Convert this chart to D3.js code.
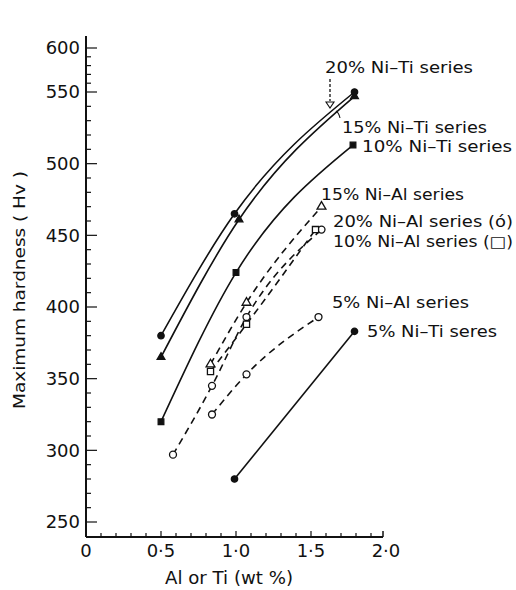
<!DOCTYPE html>
<html><head><meta charset="utf-8">
<script src="https://cdn.jsdelivr.net/npm/d3@7"></script>
<style>
html,body{margin:0;padding:0;background:#fff;}
svg{display:block;font-family:"DejaVu Sans",sans-serif;}
</style></head>
<body><svg id="c" width="516" height="590"></svg>
<script>
// ---------------- data ----------------
const xTickValues = [0, 0.5, 1.0, 1.5, 2.0];
const xTickLabels = ["0", "0·5", "1·0", "1·5", "2·0"];
const yTickValues = [250, 300, 350, 400, 450, 500, 550, 600];
const xTitle = "Al or Ti  (wt %)";
const yTitle = "Maximum  hardness  ( Hv )";

const niTi20x = [0.5, 0.99, 1.79];  const niTi20y = [380, 465, 550];
const niTi15x = [0.5, 1.02, 1.79]; const niTi15y = [365, 461, 547];
const niTi10x = [0.5, 1.0, 1.78];  const niTi10y = [320, 424, 513];
const niTi5x  = [0.99, 1.79];      const niTi5y  = [280, 383];
const niAl15x = [0.83, 1.07, 1.57];        const niAl15y = [360, 403, 470];
const niAl20x = [0.58, 0.84, 1.07, 1.57];  const niAl20y = [297, 345, 393, 454];
const niAl10x = [0.83, 1.07, 1.53];        const niAl10y = [355, 388, 454];
const niAl5x  = [0.84, 1.07, 1.55];        const niAl5y  = [325, 353, 393];

const seriesNames = ["20% Ni–Ti series","15% Ni–Ti series","10% Ni–Ti series","5% Ni–Ti seres",
                     "15% Ni–Al series","20% Ni–Al series (ó)","10% Ni–Al series (□)","5% Ni–Al series"];

// ---------------- layout ----------------
const svg = d3.select("#c");
const x = d3.scaleLinear().domain([0, 2]).range([86, 386]);
const y = d3.scaleLinear().domain([250, 550, 600]).range([522, 92, 48]);
const ink = "#111";

// axes
const g = svg.append("g");
g.append("line").attr("x1", x(0)).attr("x2", x(0)).attr("y1", 36).attr("y2", 537)
  .attr("stroke", ink).attr("stroke-width", 2);
g.append("line").attr("x1", x(0)).attr("x2", x(1.98)).attr("y1", 537).attr("y2", 537)
  .attr("stroke", ink).attr("stroke-width", 2);
g.append("line").attr("x1", x(1.98)).attr("x2", x(1.98)).attr("y1", 537).attr("y2", 531)
  .attr("stroke", ink).attr("stroke-width", 1.5);

// y ticks (minor every 10)
const yMinor = d3.range(250, 601, 10);
g.selectAll(".ym").data(yMinor).join("line")
  .attr("x1", x(0)).attr("x2", d => x(0) + (d % 50 === 0 ? 11 : 5))
  .attr("y1", d => y(d)).attr("y2", d => y(d))
  .attr("stroke", ink).attr("stroke-width", 1.2);
g.selectAll(".yl").data(yTickValues).join("text")
  .attr("x", 80).attr("y", d => y(d)).attr("dy", "0.36em")
  .attr("text-anchor", "end").attr("font-size", 18).attr("fill", ink)
  .text(d => d);

// x ticks (minor every 0.1)
const xMinor = d3.range(1, 20).map(i => i / 10);
g.selectAll(".xm").data(xMinor).join("line")
  .attr("x1", d => x(d)).attr("x2", d => x(d))
  .attr("y1", 537).attr("y2", d => 537 - (Math.abs(d * 2 - Math.round(d * 2)) < 1e-6 ? 6 : 4))
  .attr("stroke", ink).attr("stroke-width", 1.2);
g.selectAll(".xl").data(xTickValues).join("text")
  .attr("x", (d) => x(d)).attr("y", 557)
  .attr("text-anchor", "middle").attr("font-size", 18).attr("fill", ink)
  .text((d, i) => xTickLabels[i]);

// axis titles
g.append("text").attr("x", 165).attr("y", 584)
  .attr("textLength", 128).attr("lengthAdjust", "spacingAndGlyphs")
  .attr("font-size", 17).attr("fill", ink).text(xTitle);
g.append("text").attr("transform", "translate(25,290) rotate(-90)")
  .attr("text-anchor", "middle").attr("textLength", 238).attr("lengthAdjust", "spacingAndGlyphs")
  .attr("font-size", 16).attr("fill", ink).text(yTitle);

// ---------------- series ----------------
function pts(xs, ys) { return xs.map((v, i) => [v, ys[i]]); }
const line = d3.line().x(d => x(d[0])).y(d => y(d[1])).curve(d3.curveMonotoneX);

const series = [
  {p: pts(niTi20x, niTi20y), dash: null, sym: "circle", fill: true},
  {p: pts(niTi15x, niTi15y), dash: null, sym: "triangle", fill: true},
  {p: pts(niTi10x, niTi10y), dash: null, sym: "square", fill: true},
  {p: pts(niTi5x,  niTi5y),  dash: null, sym: "circle", fill: true},
  {p: pts(niAl15x, niAl15y), dash: "7,5", sym: "triangle", fill: false},
  {p: pts(niAl20x, niAl20y), dash: "7,5", sym: "circle", fill: false},
  {p: pts(niAl10x, niAl10y), dash: "7,5", sym: "square", fill: false},
  {p: pts(niAl5x,  niAl5y),  dash: "7,5", sym: "circle", fill: false}
];

const sg = svg.append("g");
series.forEach(s => {
  sg.append("path").attr("d", line(s.p)).attr("fill", "none")
    .attr("stroke", ink).attr("stroke-width", 1.6)
    .attr("stroke-dasharray", s.dash);
});
const symMap = {circle: d3.symbolCircle, triangle: d3.symbolTriangle, square: d3.symbolSquare};
series.forEach(s => {
  const size = s.fill ? (s.sym === "triangle" ? 26 : 32) : (s.sym === "triangle" ? 34 : 38);
  sg.selectAll(null).data(s.p).join("path")
    .attr("transform", d => `translate(${x(d[0])},${y(d[1])})`)
    .attr("d", d3.symbol().type(symMap[s.sym]).size(size))
    .attr("fill", s.fill ? ink : "#fff")
    .attr("stroke", ink).attr("stroke-width", 1.3);
});

// ---------------- labels ----------------
const labelPos = [[325, 73, 148], [342, 133, 145], [362, 152, 150], [367, 337, 130],
                  [321, 200, 143], [333, 227, 180], [333, 247, 180], [332, 308, 137]];
sg.selectAll(".lab").data(seriesNames).join("text")
  .attr("x", (d, i) => labelPos[i][0]).attr("y", (d, i) => labelPos[i][1])
  .attr("textLength", (d, i) => labelPos[i][2]).attr("lengthAdjust", "spacingAndGlyphs")
  .attr("font-size", 15).attr("fill", ink).text(d => d);

// leader for 20% Ni-Ti
sg.append("line").attr("x1", 330).attr("x2", 330).attr("y1", 79).attr("y2", 101)
  .attr("stroke", ink).attr("stroke-width", 1.3).attr("stroke-dasharray", "3,2");
sg.append("path").attr("d", "M326,102 L334,102 L330,108 Z").attr("fill", "#fff")
  .attr("stroke", ink).attr("stroke-width", 1.1);
// leader for 15% Ni-Ti
sg.append("path").attr("d", "M336,111 Q339,113 340,118").attr("fill", "none")
  .attr("stroke", ink).attr("stroke-width", 1.1);
</script></body></html>
